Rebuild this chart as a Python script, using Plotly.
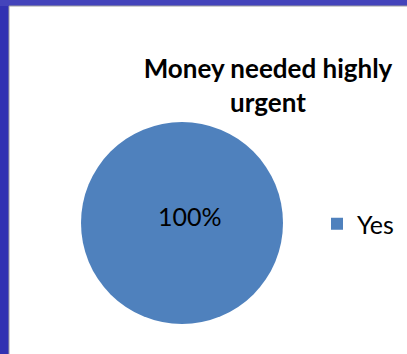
import plotly.graph_objects as go

# Survey answer breakdown
labels = ["Yes"]
values = [100]
title_text = "Money needed highly<br>urgent"

W, H = 407, 354
slice_color = "#4f81bd"
font_family = "Lato, sans-serif"

share = values[0] / sum(values) * 100

fig = go.Figure(
    go.Pie(
        labels=labels,
        values=values,
        marker=dict(colors=[slice_color], line=dict(width=0)),
        textinfo="none",
        sort=False,
        direction="clockwise",
        domain=dict(x=[81 / W, 283 / W], y=[1 - 324 / H, 1 - 122 / H]),
        showlegend=True,
        hoverinfo="label+percent",
    )
)

fig.update_layout(
    width=W,
    height=H,
    margin=dict(l=0, r=0, t=0, b=0),
    paper_bgcolor="#3232b2",
    plot_bgcolor="#ffffff",
    title=dict(
        text="<b>" + title_text + "</b>",
        x=268 / W,
        xanchor="center",
        y=1 - 78 / H,
        yanchor="top",
        font=dict(family=font_family, size=26, color="#000000"),
    ),
    legend=dict(
        x=317 / W,
        xanchor="left",
        y=1 - 224 / H,
        yanchor="middle",
        font=dict(family=font_family, size=25, color="#000000"),
        bgcolor="rgba(0,0,0,0)",
        itemwidth=30,
    ),
    annotations=[
        # data label for the single slice
        dict(text=f"{share:.0f}%", xref="paper", yref="paper",
             x=190 / W, y=1 - 216 / H, xanchor="center", yanchor="middle",
             showarrow=False, font=dict(family=font_family, size=25, color="#000000")),
    ],
    shapes=[
        # lighter band across the top of the slide background
        dict(type="rect", xref="paper", yref="paper", x0=0, x1=1, y0=1 - 6 / H, y1=1,
             fillcolor="#4444bb", line=dict(width=0), layer="below"),
        # white chart area with a thin grey edge
        dict(type="rect", xref="paper", yref="paper", x0=9 / W, x1=1.01, y0=-0.01, y1=1 - 6 / H,
             fillcolor="#ffffff", line=dict(color="#a0a0a0", width=1), layer="below"),
    ],
)

fig.write_html("out.html")
